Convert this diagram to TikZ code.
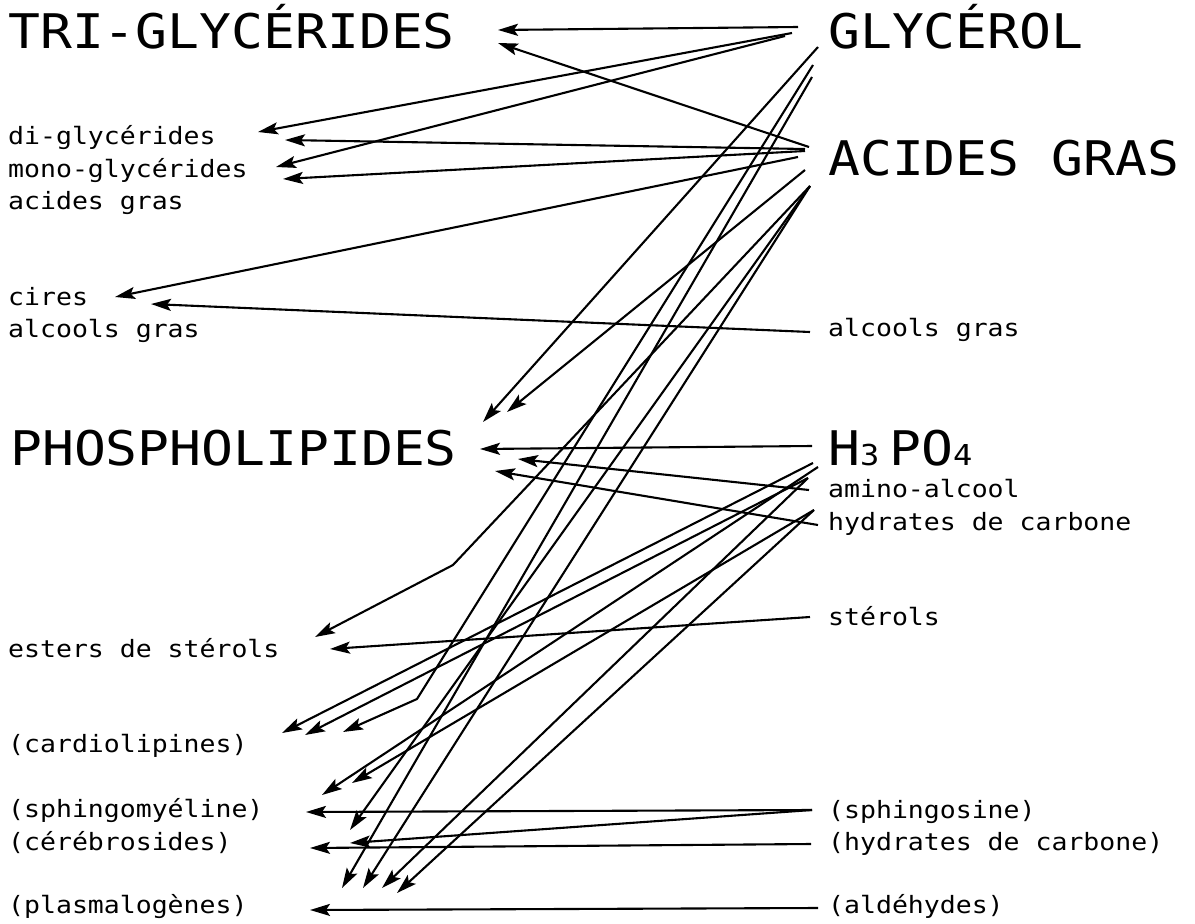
\documentclass[tikz,border=0pt]{standalone}
\usepackage{fontspec}
\setmonofont{DejaVu Sans Mono}
\usetikzlibrary{arrows.meta}
\newcommand\squash[1]{\scalebox{1}[0.9]{#1}}
\begin{document}
\begin{tikzpicture}[x=1pt,y=-1pt,
  big/.style={font=\fontsize{53}{53}\selectfont\ttfamily, inner sep=0pt, anchor=base west},
  small/.style={font=\fontsize{26.5}{26.5}\selectfont\ttfamily, inner sep=0pt, anchor=base west},
  arr/.style={line width=2.1pt, line join=round, -{Stealth[length=20pt,width=12pt,inset=4pt]}}]
\useasboundingbox (0,0) rectangle (1195,924);
% left labels
\node[big]   (tri)  at (8,48)   {\squash{TRI-GLYCÉRIDES}};
\node[small] (di)   at (8,144)  {\squash{di-glycérides}};
\node[small] (mono) at (8,177)  {\squash{mono-glycérides}};
\node[small] (agl)  at (8,209)  {\squash{acides gras}};
\node[small] (cir)  at (8,305)  {\squash{cires}};
\node[small] (alcl) at (8,337)  {\squash{alcools gras}};
\node[big]   (pho)  at (10,465) {\squash{PHOSPHOLIPIDES}};
\node[small] (est)  at (8,657)  {\squash{esters de stérols}};
\node[small] (car)  at (8,752)  {\squash{(cardiolipines)}};
\node[small] (sph)  at (8,817)  {\squash{(sphingomyéline)}};
\node[small] (cer)  at (8,850)  {\squash{(cérébrosides)}};
\node[small] (pla)  at (8,913)  {\squash{(plasmalogènes)}};
% right labels
\node[big]   (gly)  at (828,48)  {\squash{GLYCÉROL}};
\node[big]   (acg)  at (828,175) {\squash{ACIDES GRAS}};
\node[small] (alcr) at (828,336) {\squash{alcools gras}};
\node[big]   (hpo)  at (828,465) {\squash{H\fontsize{32}{32}\selectfont3\hspace{10pt}\fontsize{53}{53}\selectfont PO\fontsize{32}{32}\selectfont4}};
\node[small] (ami)  at (828,497) {\squash{amino-alcool}};
\node[small] (hyd)  at (828,530) {\squash{hydrates de carbone}};
\node[small] (ste)  at (828,625) {\squash{stérols}};
\node[small] (sgo)  at (828,818) {\squash{(sphingosine)}};
\node[small] (hyd2) at (828,850) {\squash{(hydrates de carbone)}};
\node[small] (ald)  at (828,913) {\squash{(aldéhydes)}};
% sources
\coordinate (g1) at (798,27);
\coordinate (g2) at (792,33);
\coordinate (g3) at (785,36);
\coordinate (g4) at (818,47);
\coordinate (g5) at (813,65);
\coordinate (g6) at (812,77);
\coordinate (a1) at (809,147);
\coordinate (a2) at (805,149);
\coordinate (a3) at (805,151);
\coordinate (a4) at (798,157);
\coordinate (a5) at (805,170);
\coordinate (a6) at (810,186);
\coordinate (ag) at (810,332);
\coordinate (h1) at (812,446);
\coordinate (h2) at (813,463);
\coordinate (h3) at (818,467);
\coordinate (h4) at (808,478);
\coordinate (am) at (809,490);
\coordinate (hx) at (814,510);
\coordinate (hc) at (818,525);
\coordinate (st) at (810,617);
\coordinate (sp) at (812,810);
\coordinate (hc2) at (811,844);
\coordinate (al) at (818,908);
% tips and bends
\coordinate (t1) at (498,30);
\coordinate (t2) at (498,43);
\coordinate (d1) at (258,132);
\coordinate (d2) at (285,140);
\coordinate (m1) at (276,167);
\coordinate (m2) at (283,179);
\coordinate (c1) at (115,297);
\coordinate (c2) at (151,304);
\coordinate (p1) at (483,422);
\coordinate (p2) at (507,412);
\coordinate (p3) at (480,449);
\coordinate (p4) at (518,459);
\coordinate (p5) at (495,471);
\coordinate (k1) at (453,565);
\coordinate (e1) at (315,637);
\coordinate (e2) at (330,649);
\coordinate (cl1) at (282,733);
\coordinate (cl2) at (305,735);
\coordinate (k2) at (417,699);
\coordinate (cl3) at (343,732);
\coordinate (s1) at (306,812);
\coordinate (s2) at (322,795);
\coordinate (s3) at (352,783);
\coordinate (s4) at (350,830);
\coordinate (cb1) at (350,843);
\coordinate (cb2) at (310,848);
\coordinate (pl1) at (342,888);
\coordinate (pl2) at (363,888);
\coordinate (pl3) at (382,888);
\coordinate (pl4) at (397,893);
\coordinate (pl5) at (310,910);
% connectors
\draw[arr] (g1) -- (t1);
\draw[arr] (a1) -- (t2);
\draw[arr] (g2) -- (d1);
\draw[arr] (g3) -- (m1);
\draw[arr] (a2) -- (d2);
\draw[arr] (a3) -- (m2);
\draw[arr] (a4) -- (c1);
\draw[arr] (ag) -- (c2);
\draw[arr] (g4) -- (p1);
\draw[arr] (a5) -- (p2);
\draw[arr] (h1) -- (p3);
\draw[arr] (am) -- (p4);
\draw[arr] (hc) -- (p5);
\draw[arr] (a6) -- (k1) -- (e1);
\draw[arr] (st) -- (e2);
\draw[arr] (h2) -- (cl1);
\draw[arr] (h4) -- (cl2);
\draw[arr] (g5) -- (k2) -- (cl3);
\draw[arr] (sp) -- (s1);
\draw[arr] (h3) -- (s2);
\draw[arr] (hx) -- (s3);
\draw[arr] (a6) -- (s4);
\draw[arr] (sp) -- (cb1);
\draw[arr] (hc2) -- (cb2);
\draw[arr] (g6) -- (pl1);
\draw[arr] (a6) -- (pl2);
\draw[arr] (h4) -- (pl3);
\draw[arr] (hx) -- (pl4);
\draw[arr] (al) -- (pl5);
\end{tikzpicture}
\end{document}
